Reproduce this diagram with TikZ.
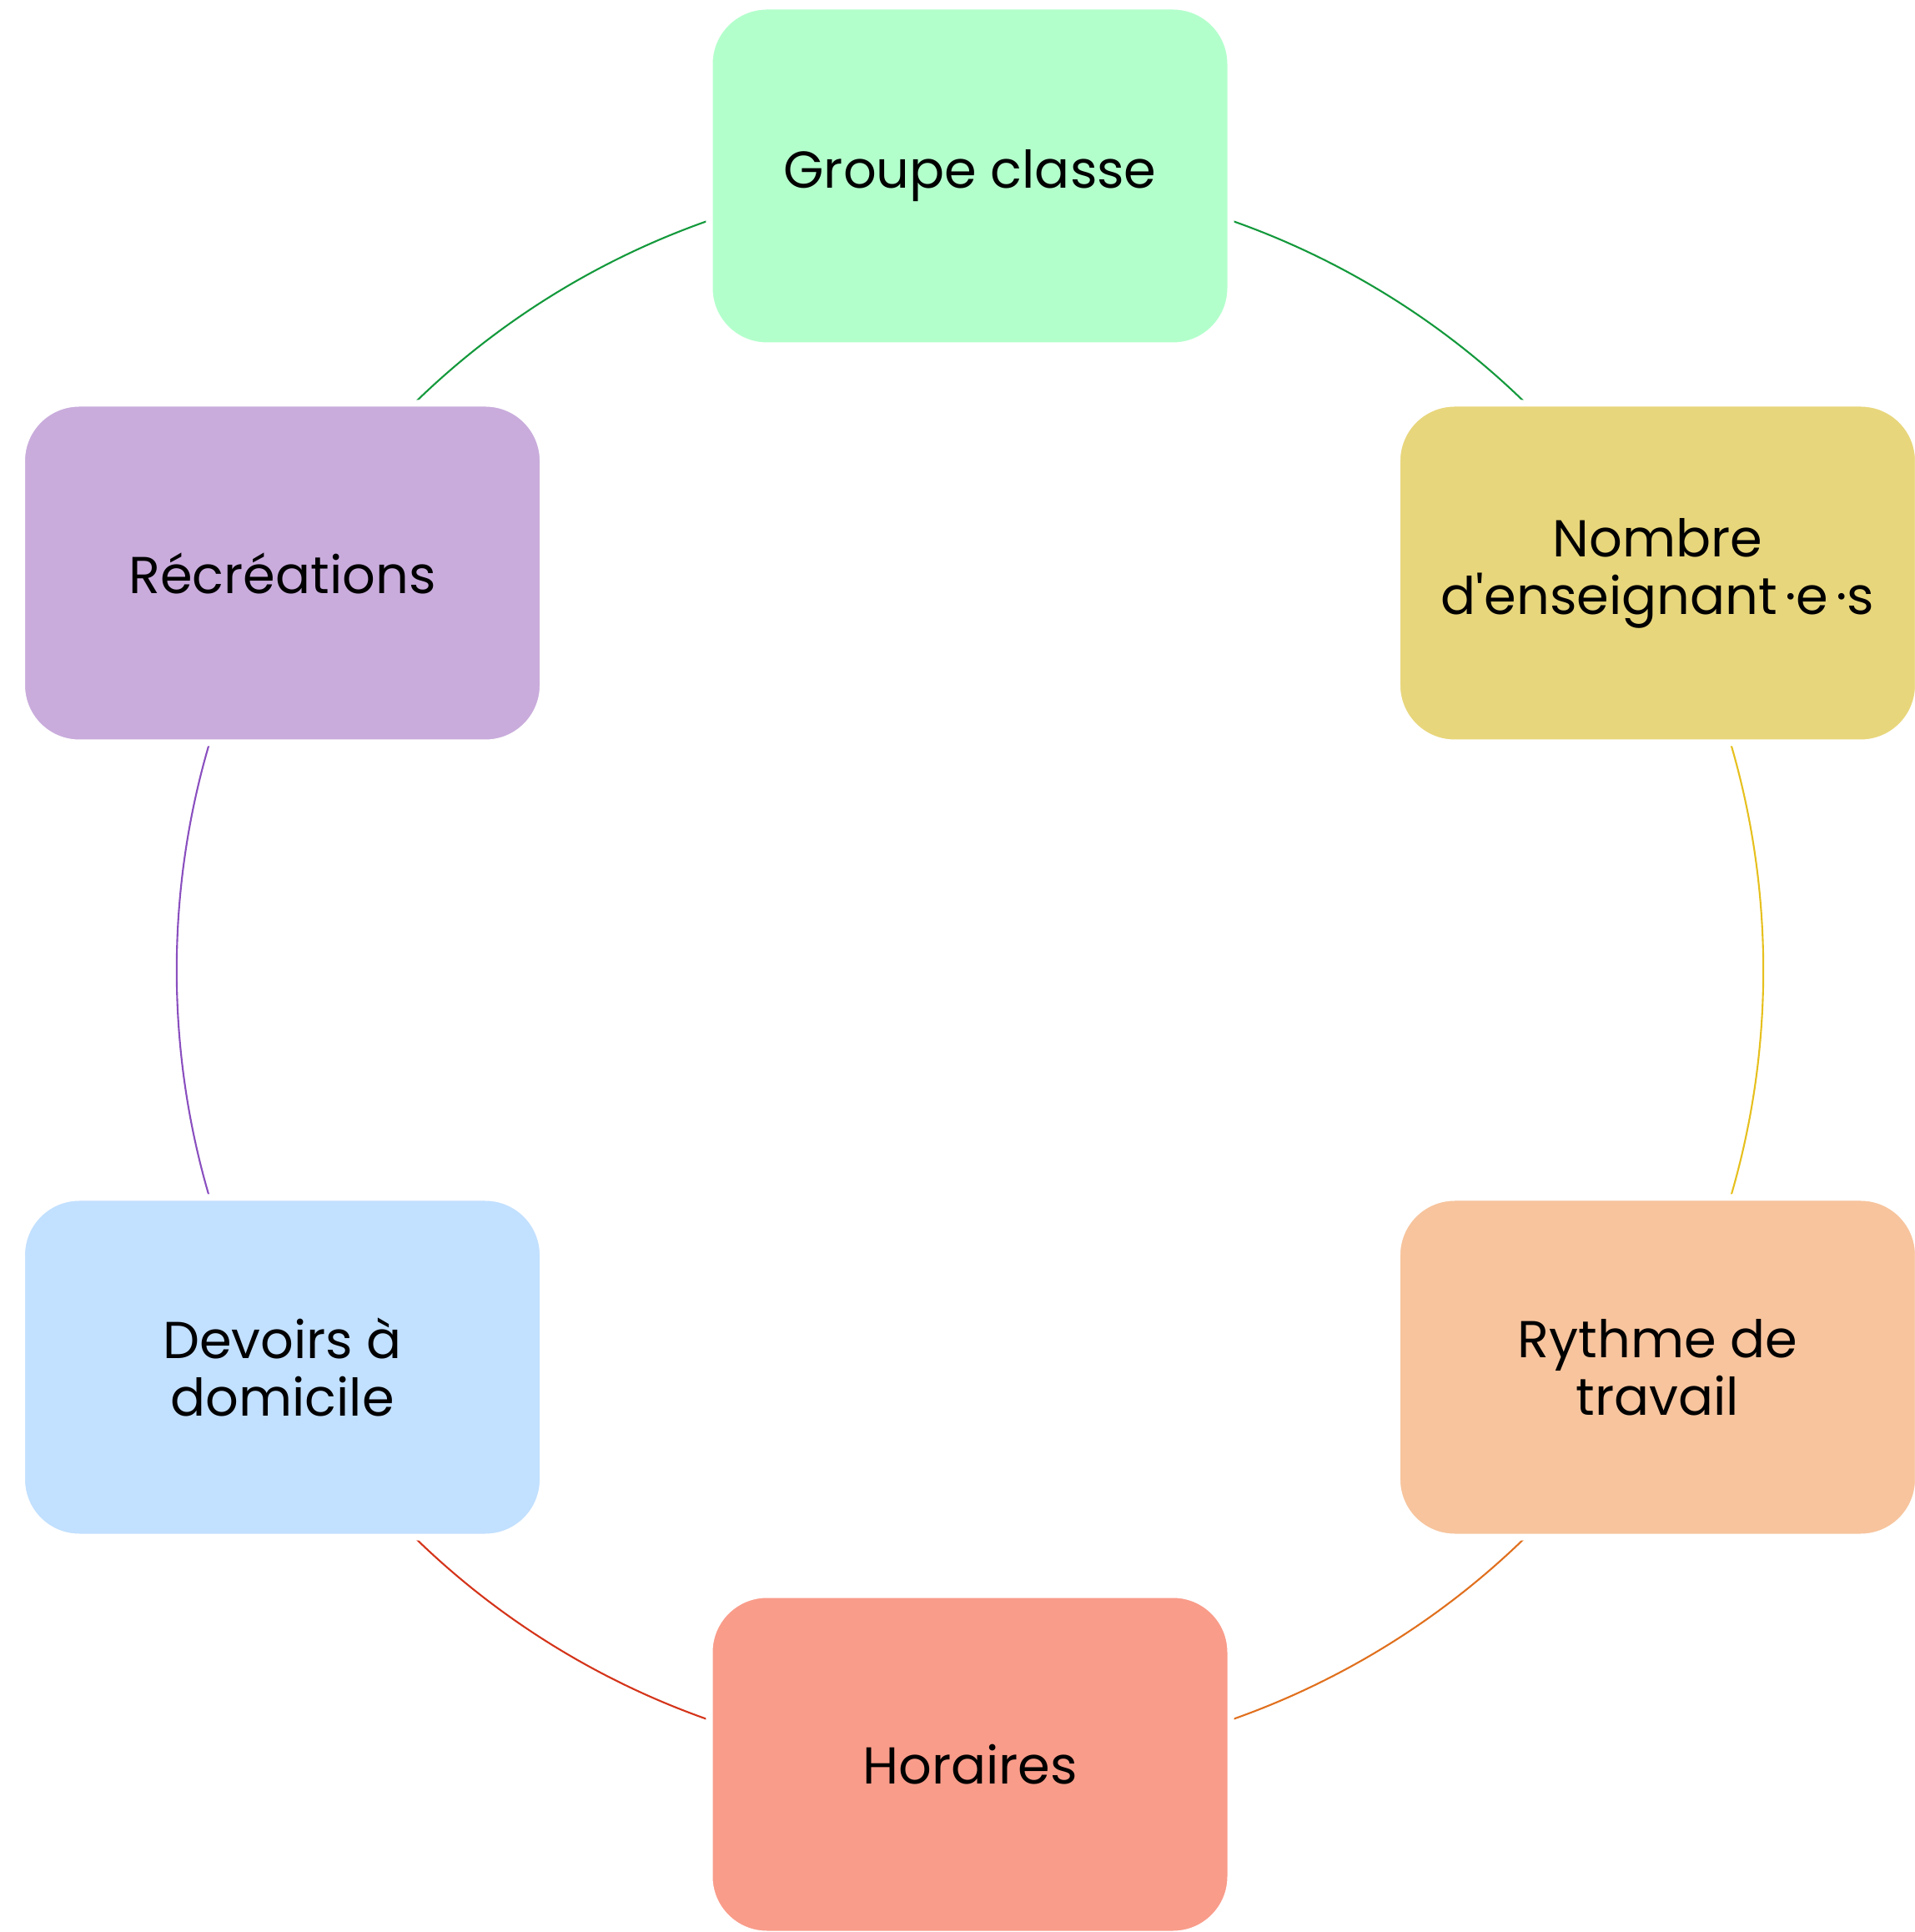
\documentclass[tikz,border=0pt]{standalone}
\usepackage{fontspec}
\setmainfont{Poppins}
\usetikzlibrary{backgrounds}

\definecolor{groupefill}{HTML}{B3FFCC}
\definecolor{nombrefill}{HTML}{E8D67C}
\definecolor{rythmefill}{HTML}{F7C49D}
\definecolor{horairesfill}{HTML}{F99C8A}
\definecolor{devoirsfill}{HTML}{C2E0FF}
\definecolor{recrefill}{HTML}{C9ACDC}
\definecolor{linkgreen}{HTML}{14993C}
\definecolor{linkyellow}{HTML}{E6C01E}
\definecolor{linkorange}{HTML}{E0701E}
\definecolor{linkred}{HTML}{D4341A}
\definecolor{linkpurple}{HTML}{8A4FBF}

\newcommand{\topicfont}{\fontsize{17.7}{19.6}\selectfont\lineskiplimit=-20pt\relax}

\begin{document}
\begin{tikzpicture}[
    topic/.style={rectangle, rounded corners=0.69cm, draw=white, line width=0.08cm,
        minimum width=6.25cm, minimum height=4.07cm, inner sep=0pt, align=center,
        text=black, font=\topicfont},
    linkline/.style={line width=0.6pt}
]
    \useasboundingbox (-11.63,-11.53) rectangle (11.33,11.63);

    % === Topics, on a circle of radius 9.52 ===
    \node[topic, fill=groupefill] (groupe) at (90:9.52) {Groupe classe};
    \node[topic, fill=nombrefill] (nombre) at (30:9.52)
        {Nombre\\d\textquotesingle enseignant\hspace{0.15em}·e\hspace{0.15em}·s};
    \node[topic, fill=rythmefill] (rythme) at (-30:9.52) {Rythme de\\travail};
    \node[topic, fill=horairesfill] (horaires) at (-90:9.52) {Horaires};
    \node[topic, fill=devoirsfill] (devoirs) at (-150:9.52) {Devoirs à\\domicile};
    \node[topic, fill=recrefill] (recre) at (150:9.52) {Récréations};

    % === Links: arcs of the same circle, kept behind the boxes ===
    \begin{scope}[on background layer]
        \draw[linkline, linkgreen] (groupe.center) to[bend left=30, looseness=0.91] (nombre.center);
        \draw[linkline, linkyellow] (nombre.center) to[bend left=30, looseness=0.91] (rythme.center);
        \draw[linkline, linkorange] (rythme.center) to[bend left=30, looseness=0.91] (horaires.center);
        \draw[linkline, linkred] (horaires.center) to[bend left=30, looseness=0.91] (devoirs.center);
        \draw[linkline, linkpurple] (devoirs.center) to[bend left=30, looseness=0.91] (recre.center);
        \draw[linkline, linkgreen] (recre.center) to[bend left=30, looseness=0.91] (groupe.center);
    \end{scope}
\end{tikzpicture}
\end{document}
